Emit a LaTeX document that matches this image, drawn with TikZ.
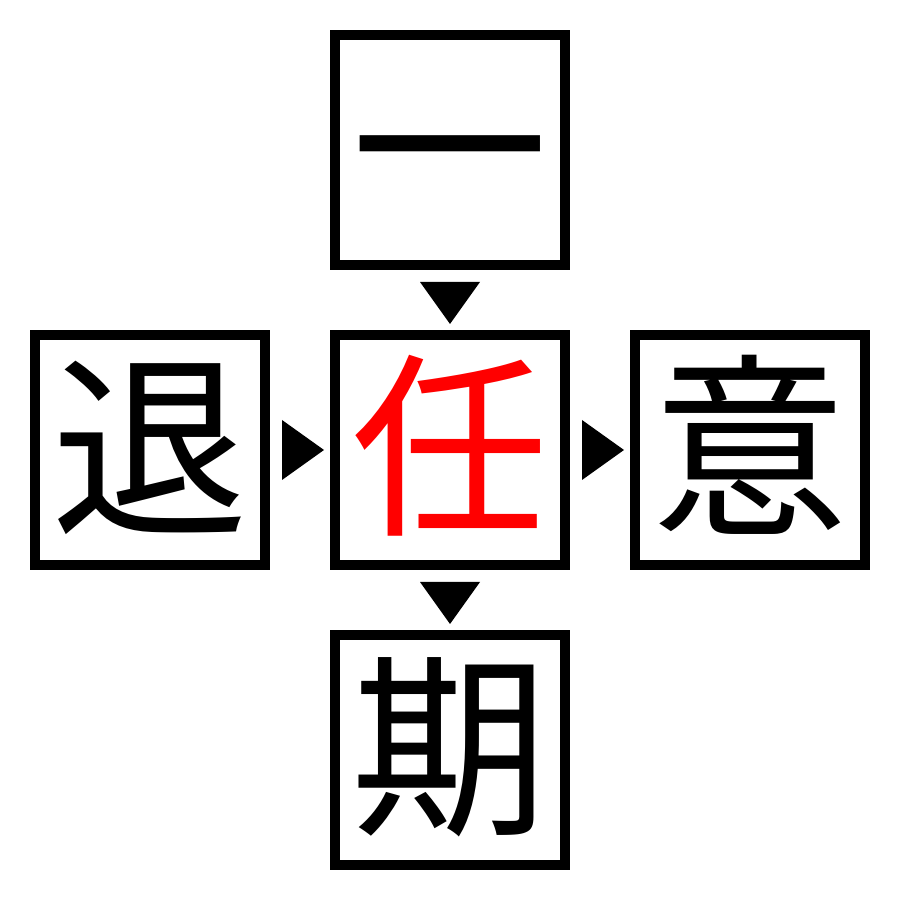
\documentclass[tikz,border=0pt]{standalone}
\usepackage{xcolor}
\usepackage{fontspec}
\usepackage{tikz}
\usetikzlibrary{calc}
\usetikzlibrary{positioning}
\newfontfamily\cjk{Noto Sans CJK JP}

\begin{document}
\begin{tikzpicture}[
            kanji/.style={draw, line width=1mm, minimum size=2.3cm, inner sep=0pt,
                text height=48pt, text depth=8pt,
                font=\cjk\fontsize{56pt}{56pt}\selectfont},
            node distance=0.6cm
        ]
            \useasboundingbox (0, 0) rectangle (9, 9);

            \node[kanji] (c) at (4.5, 4.5) {\textcolor{red}{任}};
            \node[kanji, above=of c] (t) {一};
            \node[kanji, left=of c] (l) {退};
            \node[kanji, right=of c] (r) {意};
            \node[kanji, below=of c] (b) {期};

            % pointers between the boxes
            \fill ($(t.south)+(-0.3, -0.12)$) -- ($(t.south)+(0.3, -0.12)$) -- ($(t.south)+(0, -0.54)$) -- cycle;
            \fill ($(c.south)+(-0.3, -0.12)$) -- ($(c.south)+(0.3, -0.12)$) -- ($(c.south)+(0, -0.54)$) -- cycle;
            \fill ($(l.east)+(0.12, 0.3)$) -- ($(l.east)+(0.12, -0.3)$) -- ($(l.east)+(0.54, 0)$) -- cycle;
            \fill ($(c.east)+(0.12, 0.3)$) -- ($(c.east)+(0.12, -0.3)$) -- ($(c.east)+(0.54, 0)$) -- cycle;
        \end{tikzpicture}
\end{document}
